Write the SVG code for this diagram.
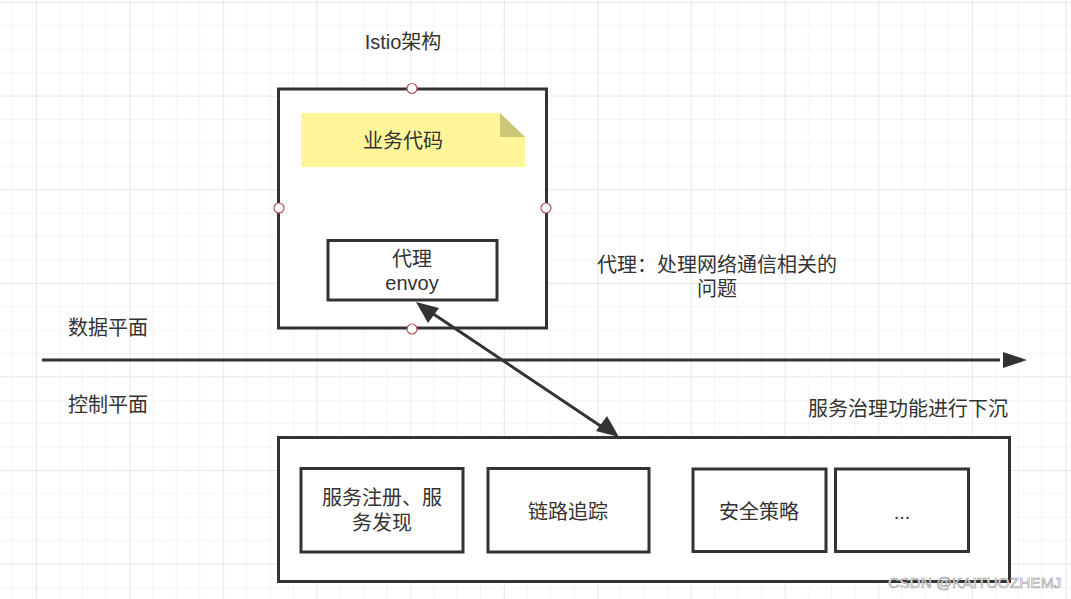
<svg xmlns="http://www.w3.org/2000/svg" width="1071" height="599" viewBox="0 0 1071 599">
<defs>
<pattern id="minor" x="12" y="2" width="23.4" height="23.4" patternUnits="userSpaceOnUse">
<path d="M0 0H23.4M0 0V23.4" fill="none" stroke="#ececec" stroke-width="1"/>
</pattern>
<pattern id="major" x="36" y="2" width="93.6" height="93.6" patternUnits="userSpaceOnUse">
<path d="M0 0H93.6M0 0V93.6" fill="none" stroke="#e0e0e0" stroke-width="1"/>
</pattern>
</defs>
<style>
.t{font-family:"Liberation Sans","Noto Sans CJK SC",sans-serif;font-size:20px;fill:#333;}
.c{text-anchor:middle;}
.box{fill:#fff;stroke:#333;stroke-width:3;}
.pt{fill:#fff;stroke:#b85450;stroke-width:1.2;}
.ln{stroke:#333;stroke-width:3;fill:none;}
</style>
<rect width="1071" height="599" fill="#fff"/>
<rect width="1071" height="599" fill="url(#minor)"/>
<rect width="1071" height="599" fill="url(#major)"/>

<text class="t c" x="403" y="49">Istio架构</text>

<g id="pod">
<rect class="box" x="278.5" y="89" width="268" height="239"/>
</g>
<g id="business">
<path d="M301 113H500L525 137V167H301Z" fill="#fff599"/>
<path d="M500 113L525 137H500Z" fill="#cdc877"/>
<text class="t c" x="403" y="148">业务代码</text>
</g>
<g id="envoy">
<rect class="box" x="328" y="240.5" width="169" height="59.5"/>
<text class="t c" x="412" y="266">代理</text>
<text class="t c" x="412" y="290">envoy</text>
</g>
<g id="points">
<circle class="pt" cx="412" cy="88.5" r="5"/>
<circle class="pt" cx="279" cy="208" r="5"/>
<circle class="pt" cx="546" cy="208" r="5"/>
<circle class="pt" cx="412" cy="329" r="5"/>
</g>

<g id="note">
<text class="t c" x="717" y="272">代理：处理网络通信相关的</text>
<text class="t c" x="717" y="296">问题</text>
</g>
<text class="t" x="68" y="335">数据平面</text>
<text class="t" x="68" y="412">控制平面</text>
<text class="t" x="808" y="416">服务治理功能进行下沉</text>

<g id="controlplane">
<rect class="box" x="278.5" y="437.5" width="731" height="144"/>
</g>
<g id="svc1">
<rect class="box" x="301" y="468.5" width="162" height="83.5"/>
<text class="t c" x="382" y="505">服务注册、服</text>
<text class="t c" x="382" y="530">务发现</text>
</g>
<g id="svc2">
<rect class="box" x="488" y="468.5" width="161" height="83.5"/>
<text class="t c" x="568" y="519">链路追踪</text>
</g>
<g id="svc3">
<rect class="box" x="693" y="469" width="133" height="82.5"/>
<text class="t c" x="759" y="519">安全策略</text>
</g>
<g id="svc4">
<rect class="box" x="835.5" y="469" width="133" height="82.5"/>
<text class="t c" x="902" y="519">...</text>
</g>

<g id="connectors">
<line x1="42" y1="360" x2="1000" y2="360" class="ln"/>
<path d="M1027 360L1003 352V368Z" fill="#333"/>
<line x1="426" y1="309" x2="608" y2="431" class="ln"/>
<path d="M416 302L439 308L428 323Z" fill="#333"/>
<path d="M619 437L596 431L607 416Z" fill="#333"/>
</g>

<text x="888" y="588" font-family="'Liberation Sans',sans-serif" font-size="15.5" fill="#fff" stroke="#999" stroke-width="0.6">CSDN @KAITUOZHEMJ</text>
</svg>
